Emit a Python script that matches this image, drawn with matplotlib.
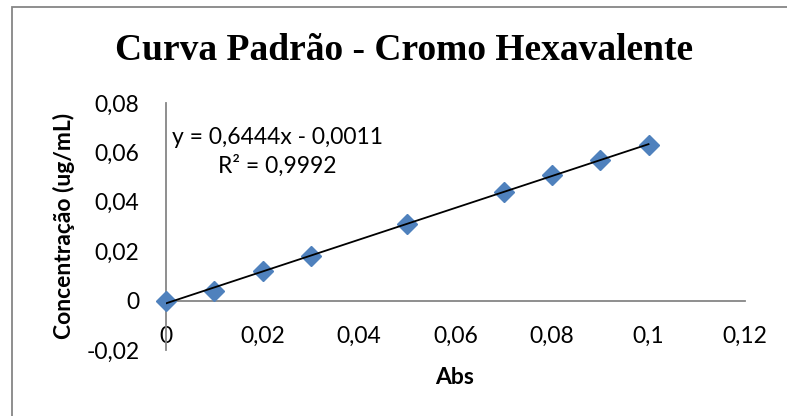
import matplotlib
matplotlib.use('Agg')
import matplotlib.pyplot as plt
import numpy as np
from matplotlib.patches import Rectangle

# ---- data ----
abs_values = [0, 0.01, 0.02, 0.03, 0.05, 0.07, 0.08, 0.09, 0.10]
concentration = [0, 0.004, 0.012, 0.018, 0.031, 0.044, 0.051, 0.057, 0.063]
x_ticks = [0, 0.02, 0.04, 0.06, 0.08, 0.10, 0.12]
x_tick_labels = ['0', '0,02', '0,04', '0,06', '0,08', '0,1', '0,12']
y_ticks = [-0.02, 0, 0.02, 0.04, 0.06, 0.08]
y_tick_labels = ['-0,02', '0', '0,02', '0,04', '0,06', '0,08']
title = 'Curva Padrão - Cromo Hexavalente'
x_label = 'Abs'
y_label = 'Concentração (ug/mL)'
equation_text = 'y = 0,6444x - 0,0011\nR² = 0,9992'

W, H = 787, 416
fig = plt.figure(figsize=(W / 100, H / 100), dpi=100)
fig.patch.set_facecolor('white')

# outer chart border (extends beyond right/bottom edges as in the reference)
fig.patches.append(Rectangle((12 / W, -0.05), 1.2, 1 - 7 / H + 0.05,
                             transform=fig.transFigure, fill=False,
                             edgecolor='#868686', linewidth=1.3))

ax = fig.add_axes([166 / W, 1 - 350 / H, (745 - 166) / W, (350 - 103) / H])
ax.set_xlim(0, 0.12)
ax.set_ylim(-0.02, 0.08)

sans = ['Lato', 'DejaVu Sans']
fs = 16.5

# trendline (linear least squares)
slope, intercept = np.polyfit(abs_values, concentration, 1)
xfit = np.array([min(abs_values), max(abs_values)])
ax.plot(xfit, slope * xfit + intercept, color='black', linewidth=1.3, zorder=4)

ax.plot(abs_values, concentration, linestyle='none', marker='D', markersize=10,
        color='#4F81BD', markeredgecolor='#4F81BD', zorder=3, clip_on=False)

for s in ['top', 'right']:
    ax.spines[s].set_visible(False)
ax.spines['bottom'].set_position(('data', 0))
for s in ['left', 'bottom']:
    ax.spines[s].set_color('#868686')
    ax.spines[s].set_linewidth(1.3)

ax.set_xticks(x_ticks)
ax.set_xticklabels(x_tick_labels, fontfamily=sans, fontsize=fs)
ax.set_yticks(y_ticks)
ax.set_yticklabels(y_tick_labels, fontfamily=sans, fontsize=fs)
ax.tick_params(axis='x', length=0, pad=18)
ax.tick_params(axis='y', length=0, pad=19)

fig.text(404 / W, 1 - 51 / H, title, ha='center', va='center',
         fontfamily='Liberation Serif', fontweight='bold', fontsize=27)
fig.text(455 / W, 1 - 377 / H, x_label, ha='center', va='center',
         fontfamily=sans, fontweight='bold', fontsize=fs)
fig.text(64 / W, 1 - 226 / H, y_label, ha='center', va='center', rotation=90,
         fontfamily=sans, fontweight='bold', fontsize=fs)
fig.text(277 / W, 1 - 152 / H, equation_text, ha='center', va='center',
         multialignment='center', linespacing=1.35,
         fontfamily=sans, fontsize=fs)

fig.savefig('out.png', dpi=100)
